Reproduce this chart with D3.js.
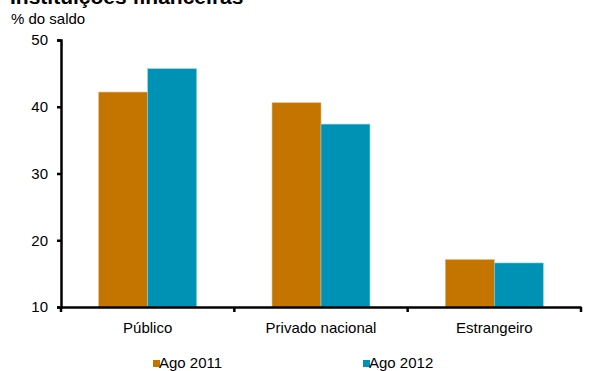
<!DOCTYPE html>
<html>
<head>
<meta charset="utf-8">
<script src="https://cdn.jsdelivr.net/npm/d3@7"></script>
<style>
  html, body { margin: 0; padding: 0; background: #fff; }
  svg { display: block; font-family: "Liberation Sans", Arial, sans-serif; }
</style>
</head>
<body>
<svg id="chart" width="595" height="371"></svg>
<script>
// Participação no saldo por tipo de instituição
const categories = ["Público", "Privado nacional", "Estrangeiro"];
const seriesNames = ["Ago 2011", "Ago 2012"];
const ago2011 = [42.2, 40.6, 17.1];
const ago2012 = [45.7, 37.4, 16.6];
const yTicks = [10, 20, 30, 40, 50];
const colors = ["#C47500", "#0092B5"];

const FONT = "Liberation Sans, Arial, sans-serif";
const svg = d3.select("#chart");
const plot = { left: 61, right: 581, top: 40, bottom: 307 };

const x = d3.scaleBand().domain(categories).range([plot.left, plot.right]).paddingInner(0).paddingOuter(0);
const xInner = d3.scaleBand().domain(seriesNames).range([0, x.bandwidth()]).paddingInner(0).paddingOuter(0.77);
const y = d3.scaleLinear().domain([10, 50]).range([plot.bottom, plot.top]);

// Title (partly above the visible area) and unit
svg.append("text").attr("x", 10).attr("y", 4)
  .attr("font-size", 21).attr("font-weight", "bold").attr("fill", "#000")
  .text("Instituições financeiras");
svg.append("text").attr("x", 11).attr("y", 24)
  .attr("font-size", 15).attr("fill", "#000").text("% do saldo");

// Bars
const rows = categories.map((c, i) => ({ cat: c, values: [ago2011[i], ago2012[i]] }));
const groups = svg.append("g").selectAll("g").data(rows).join("g")
  .attr("transform", d => `translate(${x(d.cat)},0)`);
groups.selectAll("rect").data(d => d.values.map((v, j) => ({ v, s: seriesNames[j], j })))
  .join("rect")
  .attr("x", d => xInner(d.s))
  .attr("width", xInner.bandwidth())
  .attr("y", d => y(d.v))
  .attr("height", d => y(10) - y(d.v))
  .attr("fill", d => colors[d.j])
  .attr("stroke", d => d.j === 0 ? "#e6b67a" : "#8fd0e0")
  .attr("stroke-width", 0.6);

// Y axis
const yAxis = d3.axisLeft(y).tickValues(yTicks).tickSize(4).tickPadding(9);
const gy = svg.append("g").attr("transform", `translate(${plot.left},0)`).call(yAxis)
  .attr("font-size", 15).attr("font-family", FONT);
gy.select(".domain").attr("stroke", "#000").attr("stroke-width", 2.5);
gy.selectAll(".tick line").attr("stroke", "#000").attr("stroke-width", 2.5);
gy.selectAll(".tick text").attr("fill", "#000");

// X axis
const xAxis = d3.axisBottom(x).tickSize(0).tickPadding(15);
const gx = svg.append("g").attr("transform", `translate(0,${plot.bottom})`).call(xAxis)
  .attr("font-size", 15).attr("font-family", FONT);
gx.select(".domain").attr("stroke", "#000").attr("stroke-width", 2.5);
gx.selectAll(".tick text").attr("fill", "#000");
// Category separator ticks
const bounds = [plot.left].concat(categories.map(c => x(c) + x.bandwidth()));
svg.append("g").selectAll("line").data(bounds).join("line")
  .attr("x1", d => d).attr("x2", d => d)
  .attr("y1", plot.bottom).attr("y2", plot.bottom + 5)
  .attr("stroke", "#000").attr("stroke-width", 2.5);

// Legend
const legendX = [153, 363];
const lg = svg.append("g").selectAll("g").data(seriesNames).join("g")
  .attr("transform", (d, i) => `translate(${legendX[i]},360)`);
lg.append("rect").attr("width", 7).attr("height", 7).attr("y", 0)
  .attr("fill", (d, i) => colors[i]);
lg.append("text").attr("x", 6).attr("y", 7.5).attr("font-size", 15).attr("fill", "#000")
  .text(d => d);
</script>
</body>
</html>
